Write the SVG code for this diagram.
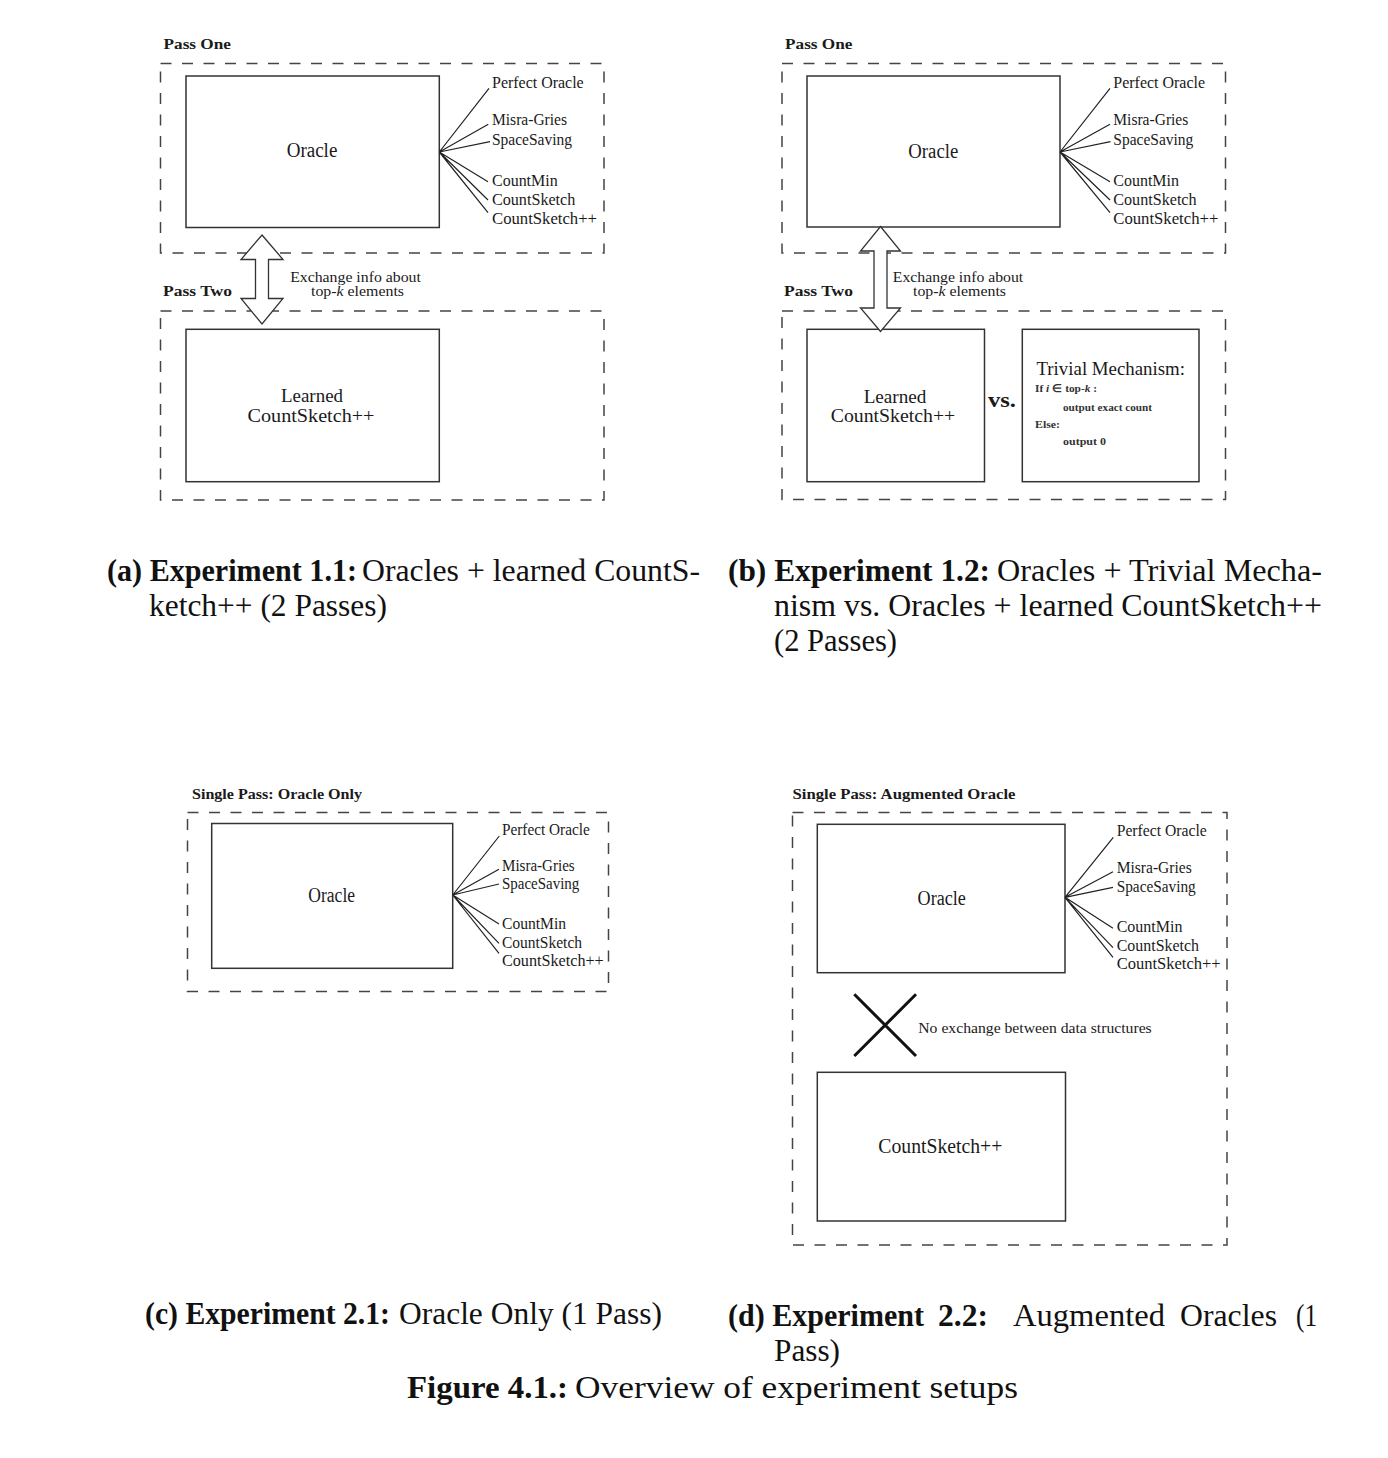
<svg xmlns="http://www.w3.org/2000/svg" width="1388" height="1458" viewBox="0 0 1388 1458">
<style>
text{font-family:"Liberation Serif","Times New Roman",serif;fill:#1a1a1a}
.hdr{font-size:15px;font-weight:bold}
.node{font-size:20.5px}
.node2{font-size:19px}
.leaf{font-size:16px}
.ex{font-size:15.5px}
.sm{font-size:11px;font-weight:bold;fill:#333}
.cap{font-size:31px;fill:#111}
.capb{font-size:31px;font-weight:bold;fill:#111}
.dash{fill:none;stroke:#444;stroke-width:1.5;stroke-dasharray:11 10.5}
.box{fill:#fff;stroke:#333;stroke-width:1.5}
.fan{stroke:#222;stroke-width:1.2;fill:none}
.arrow{fill:#fff;stroke:#333;stroke-width:1.3;stroke-linejoin:miter}
</style>

<!-- ===== Panel (a) ===== -->
<g id="a-pass-one">
<text class="hdr" x="163.5" y="48.5" textLength="67.5" lengthAdjust="spacingAndGlyphs">Pass One</text>
<rect class="dash" x="160.5" y="63.5" width="443.5" height="189.5"/>
</g>
<g id="a-oracle">
<rect class="box" x="186" y="76" width="253.3" height="151.5"/>
<text class="node" x="312" y="157" text-anchor="middle" textLength="50.7" lengthAdjust="spacingAndGlyphs">Oracle</text>
</g>
<g id="a-leaves">
<text class="leaf" x="492" y="87.5" textLength="91.7" lengthAdjust="spacingAndGlyphs">Perfect Oracle</text>
<text class="leaf" x="492" y="125" textLength="75" lengthAdjust="spacingAndGlyphs">Misra-Gries</text>
<text class="leaf" x="492" y="144.5" textLength="80" lengthAdjust="spacingAndGlyphs">SpaceSaving</text>
<text class="leaf" x="492" y="186" textLength="65.7" lengthAdjust="spacingAndGlyphs">CountMin</text>
<text class="leaf" x="492" y="205" textLength="83.3" lengthAdjust="spacingAndGlyphs">CountSketch</text>
<text class="leaf" x="492" y="224" textLength="105" lengthAdjust="spacingAndGlyphs">CountSketch++</text>
</g>
<g id="a-pass-two">
<text class="hdr" x="163" y="295.5" textLength="69" lengthAdjust="spacingAndGlyphs">Pass Two</text>
<rect class="dash" x="160.5" y="311" width="443.5" height="189"/>
</g>
<g id="a-learned">
<rect class="box" x="186" y="329.3" width="253.3" height="152.4"/>
<text class="node2" x="312" y="402" text-anchor="middle" textLength="62" lengthAdjust="spacingAndGlyphs">Learned</text>
<text class="node2" x="311" y="421.5" text-anchor="middle" textLength="127" lengthAdjust="spacingAndGlyphs">CountSketch++</text>
</g>
<g id="a-exchange">
<text class="ex" x="355.5" y="281.5" text-anchor="middle" textLength="130.7" lengthAdjust="spacingAndGlyphs">Exchange info about</text>
<text class="ex" x="357.5" y="296" text-anchor="middle" textLength="93" lengthAdjust="spacingAndGlyphs">top-<tspan font-style="italic">k</tspan> elements</text>
</g>

<!-- ===== Panel (b) ===== -->
<g id="b-pass-one">
<text class="hdr" x="785" y="48.5" textLength="67.5" lengthAdjust="spacingAndGlyphs">Pass One</text>
<rect class="dash" x="782" y="63.5" width="443.5" height="189.5"/>
</g>
<g id="b-oracle">
<rect class="box" x="807" y="76" width="253" height="151"/>
<text class="node" x="933.3" y="157.5" text-anchor="middle" textLength="50" lengthAdjust="spacingAndGlyphs">Oracle</text>
</g>
<g id="b-leaves">
<text class="leaf" x="1113.3" y="87.5" textLength="91.7" lengthAdjust="spacingAndGlyphs">Perfect Oracle</text>
<text class="leaf" x="1113.3" y="125" textLength="75" lengthAdjust="spacingAndGlyphs">Misra-Gries</text>
<text class="leaf" x="1113.3" y="144.5" textLength="80" lengthAdjust="spacingAndGlyphs">SpaceSaving</text>
<text class="leaf" x="1113.3" y="186" textLength="65.7" lengthAdjust="spacingAndGlyphs">CountMin</text>
<text class="leaf" x="1113.3" y="205" textLength="83.3" lengthAdjust="spacingAndGlyphs">CountSketch</text>
<text class="leaf" x="1113.3" y="224" textLength="105" lengthAdjust="spacingAndGlyphs">CountSketch++</text>
</g>
<g id="b-pass-two">
<text class="hdr" x="784" y="295.5" textLength="69" lengthAdjust="spacingAndGlyphs">Pass Two</text>
<rect class="dash" x="782" y="311" width="443.5" height="188.5"/>
</g>
<g id="b-learned">
<rect class="box" x="807" y="329.3" width="177.5" height="152.4"/>
<text class="node2" x="895" y="402.5" text-anchor="middle" textLength="62.7" lengthAdjust="spacingAndGlyphs">Learned</text>
<text class="node2" x="893" y="421.5" text-anchor="middle" textLength="124.5" lengthAdjust="spacingAndGlyphs">CountSketch++</text>
</g>
<g id="b-vs">
<text x="988" y="407" font-size="21" font-weight="bold" textLength="28" lengthAdjust="spacingAndGlyphs">vs.</text>
</g>
<g id="b-trivial">
<rect class="box" x="1022.3" y="329.3" width="176.7" height="152.4"/>
<text x="1036.5" y="374.5" font-size="19" textLength="148.5" lengthAdjust="spacingAndGlyphs">Trivial Mechanism:</text>
<text class="sm" x="1035" y="391.5" textLength="62" lengthAdjust="spacingAndGlyphs">If <tspan font-style="italic">i</tspan> ∈ top-<tspan font-style="italic">k</tspan> :</text>
<text class="sm" x="1063" y="411" textLength="89" lengthAdjust="spacingAndGlyphs">output exact count</text>
<text class="sm" x="1035" y="427.5" textLength="25" lengthAdjust="spacingAndGlyphs">Else:</text>
<text class="sm" x="1063" y="445" textLength="43" lengthAdjust="spacingAndGlyphs">output 0</text>
</g>
<g id="b-exchange">
<text class="ex" x="958" y="281.5" text-anchor="middle" textLength="130.5" lengthAdjust="spacingAndGlyphs">Exchange info about</text>
<text class="ex" x="959.5" y="296" text-anchor="middle" textLength="93" lengthAdjust="spacingAndGlyphs">top-<tspan font-style="italic">k</tspan> elements</text>
</g>

<!-- ===== Panel (c) ===== -->
<g id="c-frame">
<text class="hdr" x="192" y="798.5" textLength="170" lengthAdjust="spacingAndGlyphs">Single Pass: Oracle Only</text>
<rect class="dash" x="187.5" y="812.5" width="421" height="179"/>
</g>
<g id="c-oracle">
<rect class="box" x="211.7" y="823.5" width="241" height="144.8"/>
<text class="node" x="331.7" y="902" text-anchor="middle" textLength="46.7" lengthAdjust="spacingAndGlyphs">Oracle</text>
</g>
<g id="c-leaves">
<text class="leaf" x="502" y="835" textLength="87.7" lengthAdjust="spacingAndGlyphs">Perfect Oracle</text>
<text class="leaf" x="502" y="871" textLength="72.7" lengthAdjust="spacingAndGlyphs">Misra-Gries</text>
<text class="leaf" x="502" y="889" textLength="77.3" lengthAdjust="spacingAndGlyphs">SpaceSaving</text>
<text class="leaf" x="502" y="929" textLength="64" lengthAdjust="spacingAndGlyphs">CountMin</text>
<text class="leaf" x="502" y="948" textLength="80" lengthAdjust="spacingAndGlyphs">CountSketch</text>
<text class="leaf" x="502" y="966" textLength="101.7" lengthAdjust="spacingAndGlyphs">CountSketch++</text>
</g>

<!-- ===== Panel (d) ===== -->
<g id="d-frame">
<text class="hdr" x="792.5" y="798.5" textLength="223" lengthAdjust="spacingAndGlyphs">Single Pass: Augmented Oracle</text>
<rect class="dash" x="792.5" y="812.5" width="434.5" height="432.5"/>
</g>
<g id="d-oracle">
<rect class="box" x="817.3" y="824.3" width="247.7" height="148.4"/>
<text class="node" x="941.7" y="905" text-anchor="middle" textLength="48.3" lengthAdjust="spacingAndGlyphs">Oracle</text>
</g>
<g id="d-leaves">
<text class="leaf" x="1116.7" y="835.7" textLength="90" lengthAdjust="spacingAndGlyphs">Perfect Oracle</text>
<text class="leaf" x="1116.7" y="873.3" textLength="75" lengthAdjust="spacingAndGlyphs">Misra-Gries</text>
<text class="leaf" x="1116.7" y="892.3" textLength="79" lengthAdjust="spacingAndGlyphs">SpaceSaving</text>
<text class="leaf" x="1116.7" y="932.3" textLength="65.7" lengthAdjust="spacingAndGlyphs">CountMin</text>
<text class="leaf" x="1116.7" y="950.7" textLength="82.3" lengthAdjust="spacingAndGlyphs">CountSketch</text>
<text class="leaf" x="1116.7" y="969.3" textLength="104" lengthAdjust="spacingAndGlyphs">CountSketch++</text>
</g>
<g id="d-noexchange">
<path d="M854.3 994.3 L916 1056 M916 994.3 L854.3 1056" stroke="#111" stroke-width="3" fill="none"/>
<text x="918.3" y="1032.5" font-size="14.5" textLength="233.4" lengthAdjust="spacingAndGlyphs">No exchange between data structures</text>
</g>
<g id="d-countsketch">
<rect class="box" x="817.3" y="1072.3" width="248.2" height="148.7"/>
<text class="node" x="940.3" y="1152.5" text-anchor="middle" textLength="124" lengthAdjust="spacingAndGlyphs">CountSketch++</text>
</g>

<!-- ===== Connectors ===== -->
<g id="connectors">
<path class="fan" d="M439.3 152 L489 88.3 M439.3 152 L488.3 124.3 M439.3 152 L490 141.7 M439.3 152 L488 181.7 M439.3 152 L488 200 M439.3 152 L488 212.7"/>
<path class="fan" d="M1060 152 L1110 88.3 M1060 152 L1110 124.3 M1060 152 L1110.5 141.7 M1060 152 L1110 181.7 M1060 152 L1110 200 M1060 152 L1110 212.7"/>
<path class="fan" d="M452.7 895 L499.3 836 M452.7 895 L499 869.3 M452.7 895 L499 884 M452.7 895 L499 924 M452.7 895 L499 943.3 M452.7 895 L499 953.3"/>
<path class="fan" d="M1065 897.3 L1113.3 837.3 M1065 897.3 L1113 871.7 M1065 897.3 L1113 887.3 M1065 897.3 L1113 928.3 M1065 897.3 L1113 947.7 M1065 897.3 L1113 957.3"/>
<polygon class="arrow" points="262,235 283,259.5 268.5,259.5 268.5,298.5 283,298.5 262,324 241,298.5 255.5,298.5 255.5,259.5 241,259.5"/>
<polygon class="arrow" points="880.5,226.5 900.5,251 887,251 887,308 900.5,308 880.5,331.5 860.5,308 874,308 874,251 860.5,251"/>
</g>

<!-- ===== Captions ===== -->
<g id="captions">
<text class="capb" x="107" y="581" textLength="250" lengthAdjust="spacingAndGlyphs">(a) Experiment 1.1:</text>
<text class="cap" x="362" y="581" textLength="338" lengthAdjust="spacingAndGlyphs">Oracles + learned CountS-</text>
<text class="cap" x="149" y="616" textLength="238" lengthAdjust="spacingAndGlyphs">ketch++ (2 Passes)</text>

<text class="capb" x="728" y="581" textLength="262" lengthAdjust="spacingAndGlyphs">(b) Experiment 1.2:</text>
<text class="cap" x="997" y="581" textLength="325" lengthAdjust="spacingAndGlyphs">Oracles + Trivial Mecha-</text>
<text class="cap" x="774" y="616" textLength="548" lengthAdjust="spacingAndGlyphs">nism vs. Oracles + learned CountSketch++</text>
<text class="cap" x="774" y="651" textLength="123" lengthAdjust="spacingAndGlyphs">(2 Passes)</text>

<text class="capb" x="145" y="1324" textLength="245" lengthAdjust="spacingAndGlyphs">(c) Experiment 2.1:</text>
<text class="cap" x="399" y="1324" textLength="263" lengthAdjust="spacingAndGlyphs">Oracle Only (1 Pass)</text>

<text class="capb" x="728" y="1326" textLength="196" lengthAdjust="spacingAndGlyphs">(d) Experiment</text>
<text class="capb" x="938" y="1326" textLength="50" lengthAdjust="spacingAndGlyphs">2.2:</text>
<text class="cap" x="1013" y="1326" textLength="152" lengthAdjust="spacingAndGlyphs">Augmented</text>
<text class="cap" x="1180" y="1326" textLength="97" lengthAdjust="spacingAndGlyphs">Oracles</text>
<text class="cap" x="1296" y="1326" textLength="21" lengthAdjust="spacingAndGlyphs">(1</text>
<text class="cap" x="774" y="1361" textLength="66" lengthAdjust="spacingAndGlyphs">Pass)</text>

<text class="capb" x="407" y="1398" textLength="161" lengthAdjust="spacingAndGlyphs">Figure 4.1.:</text>
<text class="cap" x="575" y="1398" textLength="443" lengthAdjust="spacingAndGlyphs">Overview of experiment setups</text>
</g>
</svg>
